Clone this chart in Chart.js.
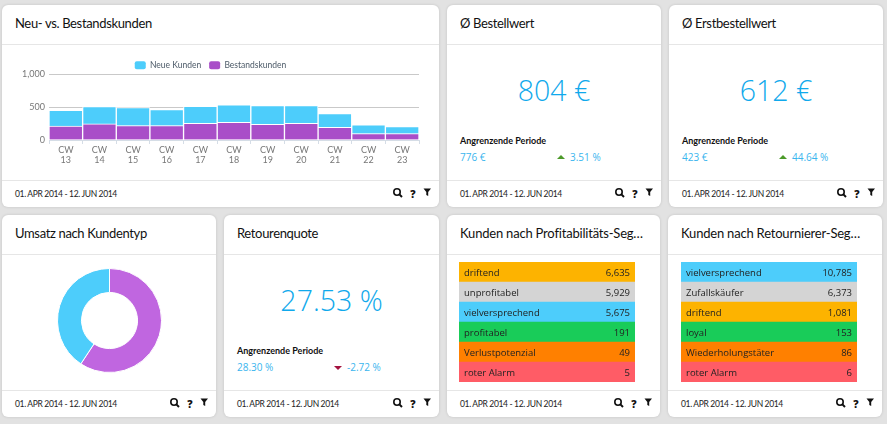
<!DOCTYPE html>
<html>
<head>
<meta charset="utf-8">
<title>Kunden Dashboard</title>
<script src="https://cdn.jsdelivr.net/npm/chart.js@4"></script>
<style>
    html, body { margin: 0; padding: 0; }
    body { width: 887px; height: 424px; background: #e2e2e2; overflow: hidden; position: relative; font-family: Lato, sans-serif; color: #111; }
    .card { position: absolute; background: #fff; border-radius: 6px; box-shadow: 0 0 3px rgba(0,0,0,0.14); }
    .title { position: absolute; left: 13px; top: 8px; font-size: 13px; letter-spacing: -0.35px; line-height: 20px; white-space: nowrap; }
    .title.wide { letter-spacing: -0.2px; }
    .head-line { position: absolute; left: 0; right: 0; top: 39px; height: 1px; background: #e6e6e6; }
    .foot-line { position: absolute; left: 0; right: 0; top: 175px; height: 1px; background: #e6e6e6; }
    .date { position: absolute; left: 13px; top: 183px; font-size: 8.5px; letter-spacing: -0.35px; line-height: 12px; color: #222; white-space: nowrap; }
    .icons { position: absolute; right: 0; top: 178px; width: 50px; height: 20px; }
    .big { position: absolute; left: 0; right: 0; top: 63px; text-align: center; font-family: "Open Sans", sans-serif; font-size: 28.5px; line-height: 44px; font-weight: 300; color: #10a9ec; }
    .prev { position: absolute; left: 13px; top: 129px; font-size: 9px; line-height: 14px; font-weight: 700; white-space: nowrap; }
    .val { position: absolute; top: 145px; font-family: "Open Sans", sans-serif; font-size: 10px; line-height: 14px; color: #3ab5ee; white-space: nowrap; }
    .tri { position: absolute; left: 110px; width: 0; height: 0; border-left: 4px solid transparent; border-right: 4px solid transparent; }
    .tri.up { top: 150px; border-bottom: 4px solid #4c9a2a; }
    .tri.down { top: 151px; border-top: 4px solid #a3123f; }
    canvas { position: absolute; }
</style>
</head>
<body>
<script>
const BLUE = "#4dcdfb";
const PURPLE = "#a94ec8";

// weekly customers
const weeks = ["13", "14", "15", "16", "17", "18", "19", "20", "21", "22", "23"];
const neueKunden = [240, 265, 276, 245, 260, 266, 285, 270, 209, 133, 107];
const bestandskunden = [214, 245, 219, 219, 255, 270, 240, 255, 194, 97, 97];

const umsatz = [
    { label: "Bestandskunden", value: 59.3, color: "#c066e0" },
    { label: "Neue Kunden", value: 40.7, color: BLUE }
];

const YELLOW = "#fdb300", GREY = "#d4d4d4", GREEN = "#19cc59", ORANGE = "#ff8000", RED = "#ff5c66";

const profitSegments = [
    { label: "driftend", value: 6635, color: YELLOW },
    { label: "unprofitabel", value: 5929, color: GREY },
    { label: "vielversprechend", value: 5675, color: BLUE },
    { label: "profitabel", value: 191, color: GREEN },
    { label: "Verlustpotenzial", value: 49, color: ORANGE },
    { label: "roter Alarm", value: 5, color: RED }
];

const returnSegments = [
    { label: "vielversprechend", value: 10785, color: BLUE },
    { label: "Zufallskäufer", value: 6373, color: GREY },
    { label: "driftend", value: 1081, color: YELLOW },
    { label: "loyal", value: 153, color: GREEN },
    { label: "Wiederholungstäter", value: 86, color: ORANGE },
    { label: "roter Alarm", value: 6, color: RED }
];

// card boxes: x, y, width, height
const cards = {
    neuBestand: { x: 2, y: 5, w: 437, h: 202, title: "Neu- vs. Bestandskunden" },
    bestellwert: { x: 447, y: 5, w: 214, h: 202, title: "Ø Bestellwert", big: "804 €", prev: "776 €", change: "3.51 %", dir: "up" },
    erstbestellwert: { x: 669, y: 5, w: 214, h: 202, title: "Ø Erstbestellwert", big: "612 €", prev: "423 €", change: "44.64 %", dir: "up" },
    umsatz: { x: 2, y: 215, w: 214, h: 202, title: "Umsatz nach Kundentyp" },
    retouren: { x: 224, y: 215, w: 215, h: 202, title: "Retourenquote", big: "27.53 %", prev: "28.30 %", change: "-2.72 %", dir: "down" },
    profit: { x: 447, y: 215, w: 213, h: 202, title: "Kunden nach Profitabilitäts-Seg…", wide: true },
    retournierer: { x: 668, y: 215, w: 214, h: 202, title: "Kunden nach Retournierer-Seg…", wide: true }
};

const iconsSvg = '<svg width="50" height="20" viewBox="0 0 50 20">' +
    '<circle cx="8" cy="9" r="3.2" fill="none" stroke="#111" stroke-width="1.6"/>' +
    '<line x1="10.4" y1="11.4" x2="13" y2="14" stroke="#111" stroke-width="2"/>' +
    '<text x="24" y="14.5" font-size="10.5" font-weight="800" text-anchor="middle" fill="#111" font-family="Open Sans">?</text>' +
    '<path d="M34.5 5.5h7.5l-2.8 3.4v4.2l-1.9-1v-3.2z" fill="#111"/>' +
    '</svg>';

function addDiv(parent, className, text) {
    const div = document.createElement("div");
    div.className = className;
    if (text !== undefined) div.textContent = text;
    parent.appendChild(div);
    return div;
}

function buildCard(card) {
    const el = addDiv(document.body, "card");
    el.style.left = card.x + "px";
    el.style.top = card.y + "px";
    el.style.width = card.w + "px";
    el.style.height = card.h + "px";
    addDiv(el, card.wide ? "title wide" : "title", card.title);
    addDiv(el, "head-line");
    addDiv(el, "foot-line");
    addDiv(el, "date", "01. APR 2014 - 12. JUN 2014");
    addDiv(el, "icons").innerHTML = iconsSvg;

    // number cards
    if (card.big) {
        addDiv(el, "big", card.big);
        addDiv(el, "prev", "Angrenzende Periode");
        addDiv(el, "val", card.prev).style.left = "13px";
        addDiv(el, "tri " + card.dir);
        addDiv(el, "val", card.change).style.left = "123px";
    }
    return el;
}

// canvas placed at page coordinates
function addCanvas(x, y, w, h) {
    const canvas = document.createElement("canvas");
    canvas.width = w;
    canvas.height = h;
    canvas.style.left = x + "px";
    canvas.style.top = y + "px";
    canvas.style.width = w + "px";
    canvas.style.height = h + "px";
    canvas.style.zIndex = 2;
    document.body.appendChild(canvas);
    return canvas;
}

Object.keys(cards).forEach(key => buildCard(cards[key]));

Chart.defaults.font.family = "Lato, sans-serif";
Chart.defaults.animation = false;
Chart.defaults.responsive = false;

// the legend sits closer to the plot than its item padding allows
const shortLegend = {
    id: "shortLegend",
    beforeInit(chart) {
        const fit = chart.legend.fit;
        chart.legend.fit = function () {
            fit.call(this);
            this.height = 21.5;
        };
    }
};

new Chart(addCanvas(2, 46, 437, 134), {
    type: "bar",
    data: {
        labels: weeks.map(w => ["CW", w]),
        datasets: [
            { label: "Bestandskunden", data: bestandskunden, backgroundColor: PURPLE, borderColor: "#fff", borderWidth: 1 },
            { label: "Neue Kunden", data: neueKunden, backgroundColor: BLUE, borderColor: "#fff", borderWidth: 1 }
        ]
    },
    options: {
        barPercentage: 1,
        categoryPercentage: 1,
        layout: { padding: { top: 7, right: 20 } },
        plugins: {
            tooltip: { enabled: false },
            legend: {
                position: "top",
                labels: {
                    boxWidth: 11,
                    boxHeight: 8,
                    padding: 8,
                    color: "#4c5a68",
                    font: { size: 8.5 },
                    // blue comes first in the legend, purple is the bottom of the stack
                    generateLabels: chart => chart.data.datasets.map((d, i) => ({
                        text: d.label, fillStyle: d.backgroundColor, strokeStyle: d.backgroundColor,
                        lineWidth: 0, datasetIndex: i, borderRadius: 2, fontColor: "#4c5a68"
                    })).reverse()
                }
            }
        },
        scales: {
            x: {
                stacked: true,
                border: { color: "#d5dde6" },
                grid: { drawOnChartArea: false, tickLength: 4, color: "#d5dde6" },
                ticks: { color: "#777", font: { size: 9, lineHeight: 1.1 }, padding: 1, maxRotation: 0, autoSkip: false },
                afterFit: scale => { scale.height = 40; }
            },
            y: {
                stacked: true,
                min: 0,
                max: 1000,
                border: { display: false },
                grid: { color: "#c9c9c9", drawTicks: false },
                ticks: { stepSize: 500, color: "#777", font: { size: 9 }, padding: 4, callback: v => v.toLocaleString("en-US") },
                afterFit: scale => { scale.width = 47; }
            }
        }
    },
    plugins: [shortLegend]
});

new Chart(addCanvas(57, 268, 105, 105), {
    type: "doughnut",
    data: {
        labels: umsatz.map(d => d.label),
        datasets: [{ data: umsatz.map(d => d.value), backgroundColor: umsatz.map(d => d.color), borderColor: "#fff", borderWidth: 1 }]
    },
    options: {
        cutout: "54%",
        plugins: { legend: { display: false }, tooltip: { enabled: false } }
    }
});

// writes the name and the count on every row
const rowLabels = {
    id: "rowLabels",
    afterDatasetsDraw(chart) {
        const ctx = chart.ctx;
        const rows = chart.config.options.rows;
        const area = chart.chartArea;
        ctx.save();
        ctx.font = "9.5px 'Open Sans'";
        ctx.fillStyle = "#222";
        ctx.textBaseline = "middle";
        chart.getDatasetMeta(0).data.forEach((bar, i) => {
            ctx.textAlign = "left";
            ctx.fillText(rows[i].label, area.left + 5, bar.y + 1);
            ctx.textAlign = "right";
            ctx.fillText(rows[i].value.toLocaleString("en-US"), area.right - 5, bar.y + 1);
        });
        ctx.restore();
    }
};

// every row is the same length in the reference, the count is only written on it
function createSegmentChart(rows, x, y) {
    new Chart(addCanvas(x, y, 176, 120), {
        type: "bar",
        data: {
            labels: rows.map(r => r.label),
            datasets: [{ data: rows.map(() => 1), backgroundColor: rows.map(r => r.color), borderWidth: 0, barPercentage: 1, categoryPercentage: 1 }]
        },
        options: {
            indexAxis: "y",
            rows: rows,
            plugins: { legend: { display: false }, tooltip: { enabled: false } },
            scales: {
                x: { display: false, min: 0, max: 1 },
                y: { display: false }
            }
        },
        plugins: [rowLabels]
    });
}

createSegmentChart(profitSegments, 459, 262);
createSegmentChart(returnSegments, 681, 262);
</script>
</body>
</html>
